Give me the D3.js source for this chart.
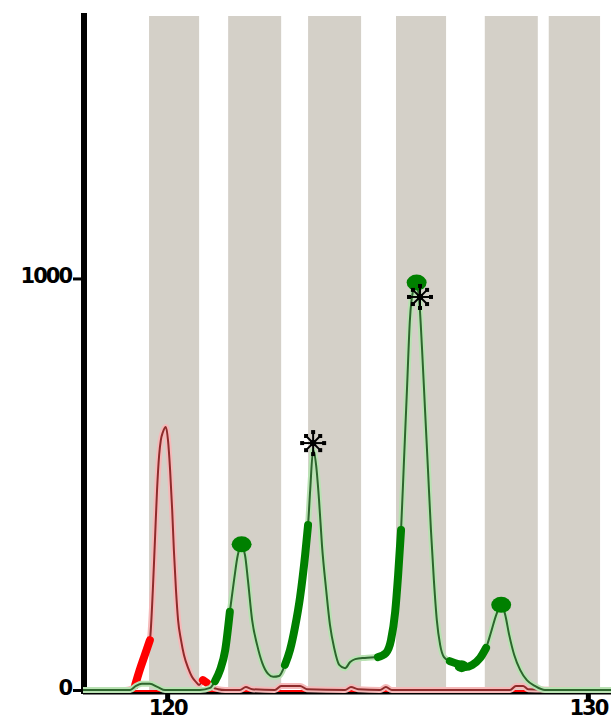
<!DOCTYPE html>
<html>
<head>
<meta charset="utf-8">
<script src="https://cdn.jsdelivr.net/npm/d3@7/dist/d3.min.js"></script>
<style>
	body { margin: 0; background: #fff; }
	svg { display: block; }
	.lbl { font-family: "DejaVu Sans", sans-serif; font-weight: bold; font-size: 21px; letter-spacing: -2px; fill: #000; }
</style>
</head>
<body>
<div id="chart"></div>
<script>
// bin windows (bp)
var bins = [
	[ 119.57, 120.76 ],
	[ 121.45, 122.71 ],
	[ 123.35, 124.61 ],
	[ 125.44, 126.63 ],
	[ 127.55, 128.81 ],
	[ 129.07, 130.29 ]
];

// green dye trace [bp, rfu]
var greenTrace = [
	[118.00,0],[119.12,0],[119.26,10],[119.40,15],[119.59,15],[119.78,7],[119.95,0],
	[120.78,0],[121.02,5],[121.14,22],[121.26,49],[121.38,97],[121.49,190],[121.59,267],
	[121.68,328],[121.76,350],[121.85,328],[121.92,267],[122.02,170],[122.14,109],[122.26,66],
	[122.40,39],[122.52,32],[122.66,34],[122.80,61],[122.92,97],[123.04,153],[123.16,226],
	[123.28,328],[123.35,401],[123.40,486],[123.47,583],[123.54,547],[123.61,462],[123.68,352],
	[123.78,243],[123.87,158],[123.97,102],[124.09,61],[124.23,53],[124.35,68],[124.47,75],
	[124.70,78],[125.01,80],[125.20,90],[125.32,121],[125.42,190],[125.49,279],[125.56,389],
	[125.63,559],[125.70,729],[125.77,899],[125.84,967],[125.92,984],[125.99,948],[126.06,826],
	[126.13,680],[126.20,535],[126.27,389],[126.34,267],[126.41,170],[126.49,109],[126.58,80],
	[126.72,70],[126.91,63],[127.08,56],[127.25,61],[127.44,78],[127.58,102],[127.70,141],
	[127.82,182],[127.94,207],[128.03,185],[128.13,134],[128.25,85],[128.39,49],[128.55,24],
	[128.74,10],[128.98,0],[130.55,0]
];

// red dye trace [bp, rfu]
var redTrace = [
	[118.00,0],[119.00,0],[119.12,2],[119.24,12],[119.35,49],[119.47,85],[119.59,121],
	[119.66,243],[119.71,364],[119.76,486],[119.81,571],[119.85,607],[119.90,627],[119.97,639],
	[120.02,607],[120.07,535],[120.12,437],[120.16,340],[120.21,243],[120.26,170],[120.33,121],
	[120.40,85],[120.50,53],[120.59,32],[120.69,19],[120.76,12],[120.85,24],[120.95,17],
	[121.07,7],[121.21,2],[121.38,0],[121.73,0],[121.87,7],[122.02,2],[122.56,0],[122.71,10],
	[123.16,10],[123.32,2],[124.23,0],[124.37,7],[124.54,2],[125.06,0],[125.20,7],[125.34,0],
	[128.15,0],[128.29,10],[128.46,10],[128.58,2],[130.55,0]
];

// sections drawn bold (bp ranges)
var greenBold = [ [ 121.10, 121.50 ], [ 122.72, 123.38 ], [ 124.90, 125.57 ], [ 126.65, 127.62 ] ];
var redBold = [ [ 119.20, 119.63 ], [ 120.78, 121.02 ] ];

// peak labels
var peakDots = [ [ 121.77, 354 ], [ 125.93, 990 ], [ 127.94, 207 ], [ 127.00, 58 ] ];
var peakStars = [ [ 123.47, 600 ], [ 126.01, 955 ] ];

var yTicks = [ 0, 1000 ];
var xTicks = [ 120, 130 ];
var yLabels = [ '0', '1000' ];
var xLabels = [ '120', '130' ];

var W = 611, H = 722;
var x = d3.scaleLinear().domain( [ 118.0, 130.55 ] ).range( [ 83, 611 ] );
var y = d3.scaleLinear().domain( [ 0, 1645 ] ).range( [ 690, 13 ] );

var svg = d3.select( '#chart' ).append( 'svg' ).attr( 'width', W ).attr( 'height', H );

svg.selectAll( 'rect.bin' )
	.data( bins )
	.enter()
	.append( 'rect' )
	.classed( 'bin', true )
	.attr( 'x', function ( d ) { return x( d[0] ); } )
	.attr( 'width', function ( d ) { return x( d[1] ) - x( d[0] ); } )
	.attr( 'y', 16 )
	.attr( 'height', 692 - 16 )
	.style( 'fill', '#d4d0c8' );

// axes
var yAxis = svg.append( 'g' )
	.attr( 'transform', 'translate(81,0)' )
	.call( d3.axisLeft( y ).tickValues( yTicks ).tickSize( 8 ).tickSizeOuter( 0 )
		.tickFormat( function ( d, i ) { return yLabels[i]; } ) );
yAxis.attr( 'font-size', null ).attr( 'font-family', null );
yAxis.select( '.domain' ).remove();
yAxis.selectAll( '.tick line' ).style( 'stroke', '#000' ).style( 'stroke-width', 3 );
yAxis.selectAll( '.tick text' ).attr( 'class', 'lbl' ).attr( 'x', -10 ).attr( 'dy', '0.2em' );

var xAxis = svg.append( 'g' )
	.attr( 'transform', 'translate(0,693)' )
	.call( d3.axisBottom( x ).tickValues( xTicks ).tickSize( 7 ).tickSizeOuter( 0 )
		.tickFormat( function ( d, i ) { return xLabels[i]; } ) );
xAxis.attr( 'font-size', null ).attr( 'font-family', null );
xAxis.select( '.domain' ).remove();
xAxis.append( 'line' ).attr( 'x1', 83 ).attr( 'x2', W ).attr( 'y1', 0 ).attr( 'y2', 0 )
	.style( 'stroke', '#000' ).style( 'stroke-width', 3 );
xAxis.selectAll( '.tick line' ).attr( 'y1', -6 ).style( 'stroke', '#000' ).style( 'stroke-width', 5 );
xAxis.selectAll( '.tick text' ).attr( 'class', 'lbl' ).attr( 'y', 22 ).attr( 'dy', null );

svg.append( 'line' )
	.attr( 'x1', 84 ).attr( 'x2', 84 ).attr( 'y1', 13 ).attr( 'y2', 694 )
	.style( 'stroke', '#000' ).style( 'stroke-width', 6 );

var line = d3.line()
	.x( function ( d ) { return x( d[0] ); } )
	.y( function ( d ) { return y( d[1] ); } )
	.curve( d3.curveMonotoneX );

function drawTrace( data, bold, halo, dark, bright ) {
	var g = svg.append( 'g' );
	g.append( 'path' ).attr( 'd', line( data ) )
		.style( 'fill', 'none' ).style( 'stroke', halo ).style( 'stroke-width', 6 );
	g.append( 'path' ).attr( 'd', line( data ) )
		.style( 'fill', 'none' ).style( 'stroke', dark ).style( 'stroke-width', 2 );
	bold.forEach( function ( r ) {
		var seg = data.filter( function ( d ) { return d[0] >= r[0] && d[0] <= r[1]; } );
		g.append( 'path' ).attr( 'd', line( seg ) )
			.style( 'fill', 'none' ).style( 'stroke', bright ).style( 'stroke-width', 8 )
			.style( 'stroke-linecap', 'round' );
	} );
	return g;
}

// baselines
svg.append( 'line' ).attr( 'x1', 83 ).attr( 'x2', W ).attr( 'y1', y( 0 ) + 1 ).attr( 'y2', y( 0 ) + 1 )
	.style( 'stroke', '#ff0000' ).style( 'stroke-width', 2 );
drawTrace( redTrace, redBold, '#f6b9b9', '#8e2b2b', '#ff0000' );
svg.append( 'line' ).attr( 'x1', 83 ).attr( 'x2', x( 119.1 ) ).attr( 'y1', y( 0 ) ).attr( 'y2', y( 0 ) )
	.style( 'stroke', '#008000' ).style( 'stroke-width', 2 );
drawTrace( greenTrace, greenBold, '#b9e2b3', '#2d652d', '#008000' );

svg.selectAll( 'ellipse.peak' )
	.data( peakDots )
	.enter()
	.append( 'ellipse' )
	.classed( 'peak', true )
	.attr( 'cx', function ( d ) { return x( d[0] ); } )
	.attr( 'cy', function ( d ) { return y( d[1] ); } )
	.attr( 'rx', function ( d, i ) { return i === 3 ? 7 : 10; } )
	.attr( 'ry', function ( d, i ) { return i === 3 ? 6 : 8; } )
	.style( 'fill', '#008000' );

var star = svg.selectAll( 'g.star' )
	.data( peakStars )
	.enter()
	.append( 'g' )
	.classed( 'star', true )
	.attr( 'transform', function ( d ) { return 'translate(' + x( d[0] ) + ',' + y( d[1] ) + ')'; } );
[ 0, 45, 90, 135 ].forEach( function ( a ) {
	var r = a % 90 === 0 ? 11 : 10;
	var dx = Math.cos( a * Math.PI / 180 ) * r, dy = Math.sin( a * Math.PI / 180 ) * r;
	star.append( 'line' ).attr( 'x1', -dx ).attr( 'y1', -dy ).attr( 'x2', dx ).attr( 'y2', dy )
		.style( 'stroke', '#000' ).style( 'stroke-width', 2 );
	star.append( 'rect' ).attr( 'x', dx - 2 ).attr( 'y', dy - 2 ).attr( 'width', 4 ).attr( 'height', 4 ).style( 'fill', '#000' );
	star.append( 'rect' ).attr( 'x', -dx - 2 ).attr( 'y', -dy - 2 ).attr( 'width', 4 ).attr( 'height', 4 ).style( 'fill', '#000' );
} );
star.append( 'rect' ).attr( 'x', -3 ).attr( 'y', -3 ).attr( 'width', 6 ).attr( 'height', 6 ).style( 'fill', '#000' );
</script>
</body>
</html>
